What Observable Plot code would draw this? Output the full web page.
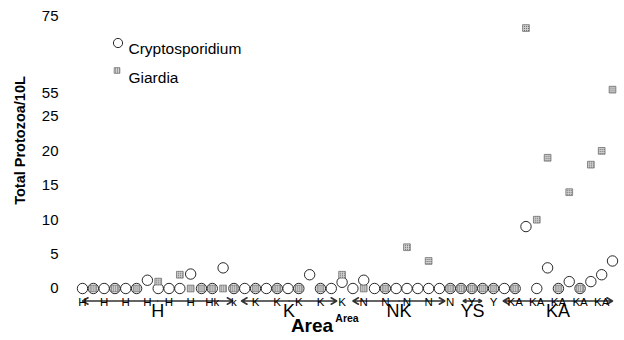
<!DOCTYPE html>
<html><head><meta charset="utf-8">
<script src="https://cdn.jsdelivr.net/npm/d3@7"></script>
<script src="https://cdn.jsdelivr.net/npm/@observablehq/plot@0.6"></script>
<style>html,body{margin:0;padding:0;background:#fff;overflow:hidden}</style>
</head><body>
<svg width="0" height="0" style="position:absolute">
  <defs>
    <pattern id="hatch" width="2" height="2" patternUnits="userSpaceOnUse">
      <rect width="2" height="2" fill="#d0d0d0"></rect>
      <rect width="1" height="1" fill="#6a6a6a"></rect>
    </pattern>
  </defs>
</svg>
<div id="chart"></div>
<script>
const sampleIndex = [0,1,2,3,4,5,6,7,8,9,10,11,12,13,14,15,16,17,18,19,20,21,22,23,24,25,26,27,28,29,30,31,32,33,34,35,36,37,38,39,40,41,42,43,44,45,46,47,48,49];
const cryptosporidium = [0,0,0,0,0,0,1.2,0,0,0,2.1,0,0,3,0,0,0,0,0,0,0,2,0,0,0.9,0,1.2,0,0,0,0,0,0,0,0,0,0,0,0,0,0,9,0,3,0,1,0,1,2,4];
const giardia = [null,0,null,0,null,0,null,1,null,2,0,0,0,0,0,null,0,null,0,null,0,null,0,null,2,null,0,null,0,null,6,null,4,null,0,0,0,0,0,null,0,72,10,19,0,14,0,18,20,56];
const yTicks = [0,5,10,15,20,25,55,75];
const yBreaks = [0,25,55,75];
const areaNames = ["H","K","NK","YS","KA"];
const areaStart = [0,14.7,25,35.2,38.9];
const areaEnd = [13.9,23.5,33.5,36.9,49];
const tickSamples = [0,2,4,6,8,10,12,14,16,18,20,22,24,26,28,30,32,34,36,38,40,42,44,46,48];
const tickLabels = ["H","H","H","H","H","H","Hk","k","K","K","K","K","K","N","N","N","N","N","Y","Y","KA","KA","KA","KA","KA"];
const legendLabels = ["Cryptosporidium","Giardia"];
const yTitle = "Total Protozoa/10L";
const xTitle = "Area";

const FONT = "Arial, 'Liberation Sans', sans-serif";
const cryptoRows = sampleIndex.map((s, k) => ({s, v: cryptosporidium[k]}));
const giardiaRows = sampleIndex.map((s, k) => ({s, v: giardia[k]})).filter(d => d.v !== null);
const areaRows = areaNames.map((name, k) => ({name, start: areaStart[k], end: areaEnd[k], mid: (areaStart[k] + areaEnd[k]) / 2}));
const tickRows = tickSamples.map((s, k) => ({s, label: tickLabels[k]}));

const chart = Plot.plot({
  width: 624, height: 340,
  marginLeft: 82, marginRight: 12, marginTop: 10, marginBottom: 40,
  style: {fontFamily: FONT, background: "#fff", color: "#000"},
  x: {type: "linear", domain: [0, 49], axis: null},
  y: {type: "linear", domain: yBreaks, range: [288, 116, 93, 16], axis: null},
  marks: [
    Plot.axisY(yTicks, {tickSize: 0, tickPadding: 24, fontSize: 15, label: null}),
    Plot.text([yTitle], {frameAnchor: "left", textAnchor: "middle", rotate: -90, dx: -62.5, dy: -15, fontSize: 14.5, fontWeight: "bold"}),
    Plot.arrow(areaRows, {x1: "mid", x2: "end", y1: 0, y2: 0, dy: 12.5, headLength: 6, stroke: "#333", strokeWidth: 1.6}),
    Plot.arrow(areaRows, {x1: "mid", x2: "start", y1: 0, y2: 0, dy: 12.5, headLength: 6, stroke: "#333", strokeWidth: 1.6}),
    Plot.text(tickRows, {x: "s", y: 0, text: "label", dy: 14, fontSize: 11.5}),
    Plot.text(areaRows, {x: "mid", y: 0, text: "name", dy: 23, fontSize: 18}),
    Plot.text([xTitle], {frameAnchor: "bottom-left", textAnchor: "middle", dx: 311.5 - 82, dy: 31, fontSize: 19, fontWeight: "bold"}),
    Plot.text([xTitle], {frameAnchor: "bottom-left", textAnchor: "middle", dx: 346.5 - 82, dy: 21.5, fontSize: 10.5, fontWeight: "bold"}),
    Plot.dot(cryptoRows, {x: "s", y: "v", r: 5.2, stroke: "#111", strokeWidth: 0.9, fill: "none"}),
    Plot.dot(giardiaRows, {x: "s", y: "v", symbol: "square", r: 3.8, fill: "url(#hatch)", stroke: "#666", strokeWidth: 0.7}),
    Plot.dot([legendLabels[0]], {frameAnchor: "top-left", dx: 35.5, dy: 32.5, r: 4.6, stroke: "#111", strokeWidth: 0.9, fill: "none"}),
    Plot.text([legendLabels[0]], {frameAnchor: "top-left", dx: 46, dy: 32.7, textAnchor: "start", fontSize: 15.5}),
    Plot.dot([legendLabels[1]], {frameAnchor: "top-left", dx: 34.5, dy: 60, symbol: "square", r: 3.2, fill: "url(#hatch)", stroke: "#666", strokeWidth: 0.7}),
    Plot.text([legendLabels[1]], {frameAnchor: "top-left", dx: 46, dy: 61.7, textAnchor: "start", fontSize: 15.5})
  ]
});
document.getElementById("chart").appendChild(chart);
</script></body></html>
